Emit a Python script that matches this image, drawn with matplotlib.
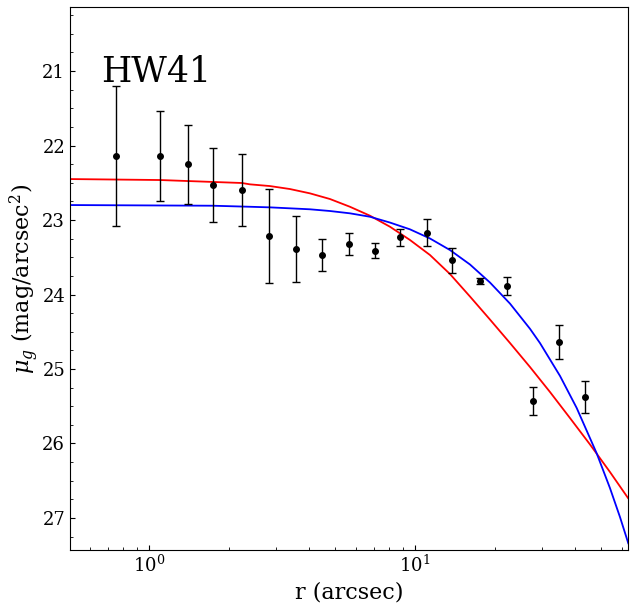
import numpy as np
import matplotlib
matplotlib.use('Agg')
import matplotlib.pyplot as plt
from matplotlib.ticker import MultipleLocator

plt.rcParams['font.family'] = ['DejaVu Serif']
plt.rcParams['mathtext.fontset'] = 'dejavuserif'

# ── Data ─────────────────────────────────────────────────────────────────────
r_obs = [0.751, 1.10, 1.40, 1.74, 2.24, 2.83, 3.57, 4.48, 5.66, 7.09,
         8.78, 11.12, 13.81, 17.60, 22.12, 27.84, 34.87, 43.68]
mu_obs = [22.14, 22.14, 22.25, 22.53, 22.60, 23.21, 23.39, 23.47, 23.32, 23.41,
          23.23, 23.17, 23.54, 23.82, 23.89, 25.43, 24.64, 25.37]
mu_err = [0.94, 0.60, 0.53, 0.50, 0.48, 0.63, 0.44, 0.215, 0.145, 0.10,
          0.115, 0.18, 0.17, 0.035, 0.12, 0.19, 0.23, 0.215]

# red model curve
r_red = [0.505, 1.10, 2.237, 2.397, 2.850, 3.389, 4.030, 4.792, 5.696, 6.774,
         8.054, 9.577, 11.39, 13.54, 16.10, 19.14, 22.76, 27.06, 32.18, 38.25,
         45.49, 54.08, 63.22]
mu_red = [22.450, 22.463, 22.503, 22.521, 22.544, 22.584, 22.642, 22.718, 22.822, 22.942,
          23.090, 23.268, 23.470, 23.725, 24.027, 24.336, 24.651, 24.973, 25.309, 25.658,
          26.013, 26.383, 26.732]

# blue model curve
r_blue = [0.505, 1.740, 2.397, 2.850, 3.389, 4.030, 4.792, 5.696, 6.774, 8.054,
          9.577, 11.39, 13.54, 16.10, 19.14, 22.76, 27.06, 29.51, 35.09, 40.54,
          48.2, 54.08, 58.98, 63.38]
mu_blue = [22.799, 22.808, 22.822, 22.830, 22.843, 22.856, 22.879, 22.910, 22.956, 23.034,
           23.125, 23.248, 23.403, 23.597, 23.839, 24.122, 24.460, 24.652, 25.093, 25.523,
           26.132, 26.599, 26.988, 27.340]

label = 'HW41'

# ── Figure ───────────────────────────────────────────────────────────────────
fig = plt.figure(figsize=(6.34, 6.08), dpi=100)
ax = fig.add_axes([0.1104, 0.0954, 0.8801, 0.8931])

ax.plot(r_red, mu_red, color='red', lw=1.3)
ax.plot(r_blue, mu_blue, color='blue', lw=1.3)
ax.errorbar(r_obs, mu_obs, yerr=mu_err, fmt='o', color='black', ms=4,
            elinewidth=1, capsize=3, capthick=1)

ax.set_xscale('log')
ax.set_xlim(0.505, 63.2)
ax.set_ylim(27.43, 20.14)
ax.yaxis.set_major_locator(MultipleLocator(1))
ax.yaxis.set_minor_locator(MultipleLocator(0.25))
ax.tick_params(which='both', direction='in', labelsize=13)

ax.text(0.056, 0.862, label, transform=ax.transAxes, fontsize=25,
        va='baseline', ha='left')

ax.set_xlabel('r (arcsec)', fontsize=16)
ax.set_ylabel(r'$\mu_g$ (mag/arcsec$^2$)', fontsize=16, labelpad=1)

fig.savefig('out.png', dpi=100)
